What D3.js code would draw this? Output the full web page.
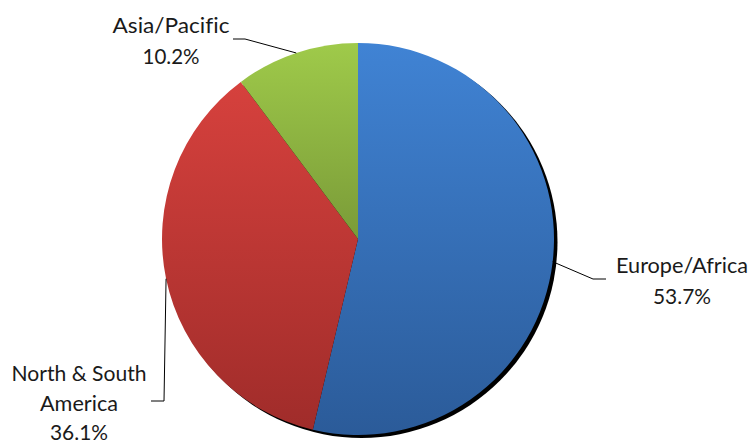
<!DOCTYPE html>
<html>
<head>
<meta charset="utf-8">
<script src="https://cdn.jsdelivr.net/npm/d3@7"></script>
<style>
  html, body { margin: 0; padding: 0; background: #fff; }
  svg { display: block; }
  text { font-family: Lato, "Open Sans", sans-serif; fill: #1a1a1a; font-variant-ligatures: none; }
</style>
</head>
<body>
<svg id="chart" width="752" height="443"></svg>
<script>
const categories = ["Europe/Africa", "North & South America", "Asia/Pacific"];
const values = [53.7, 36.1, 10.2];
const valueLabels = ["53.7%", "36.1%", "10.2%"];
const labelLines = [["Europe/Africa", "53.7%"], ["North & South", "America", "36.1%"], ["Asia/Pacific", "10.2%"]];
const colorsTop = ["#4083d4", "#d6413d", "#9fca4a"];
const colorsBottom = ["#2b5b99", "#a02c2a", "#7a9b38"];

const svg = d3.select("#chart");
const W = 752, H = 443;
const cx = 358, cy = 239, R = 196;

const defs = svg.append("defs");
colorsTop.forEach((c, i) => {
  const g = defs.append("linearGradient").attr("id", "grad" + i)
    .attr("x1", 0).attr("y1", 0).attr("x2", 0).attr("y2", 1);
  g.append("stop").attr("offset", "0%").attr("stop-color", c);
  g.append("stop").attr("offset", "100%").attr("stop-color", colorsBottom[i]);
});
const blur = defs.append("filter").attr("id", "shadowBlur")
  .attr("x", "-10%").attr("y", "-10%").attr("width", "120%").attr("height", "120%");
blur.append("feGaussianBlur").attr("stdDeviation", 0.4);

const pie = d3.pie().sort(null).value(d => d)(values);
const arc = d3.arc().innerRadius(0).outerRadius(R);

const g = svg.append("g").attr("transform", `translate(${cx},${cy})`);

// shadow
g.append("circle").attr("cx", 3.5).attr("cy", 3).attr("r", R)
  .attr("fill", "#000").attr("filter", "url(#shadowBlur)");

g.selectAll("path.slice").data(pie).enter().append("path")
  .attr("class", "slice")
  .attr("d", arc)
  .attr("fill", (d, i) => `url(#grad${i})`);

// leader lines: anchor on arc at mid-angle
const anchor = d => {
  const a = (d.startAngle + d.endAngle) / 2;
  return [cx + R * Math.sin(a), cy - R * Math.cos(a)];
};
const bends = [
  [[593, 279], [606, 279]],
  [[164, 401], [151, 401]],
  [[245, 39], [233, 39]]
];
pie.forEach((d, i) => {
  const pts = [anchor(d)].concat(bends[i]);
  svg.append("path")
    .attr("d", d3.line()(pts))
    .attr("fill", "none").attr("stroke", "#000").attr("stroke-width", 1);
});

// labels
const labelPos = [
  { x: 682, y: 273, lh: 30.5, widths: [132, 58] },
  { x: 79, y: 381, lh: 29.5, widths: [135, 78, 58] },
  { x: 171, y: 33, lh: 30.5, widths: [117, 57] }
];
labelLines.forEach((lines, i) => {
  const p = labelPos[i];
  lines.forEach((t, j) => {
    svg.append("text")
      .attr("x", p.x).attr("y", p.y + j * p.lh)
      .attr("text-anchor", "middle")
      .attr("font-size", 20.5)
      .attr("textLength", p.widths[j])
      .attr("lengthAdjust", "spacingAndGlyphs")
      .text(t);
  });
});
</script>
</body>
</html>
